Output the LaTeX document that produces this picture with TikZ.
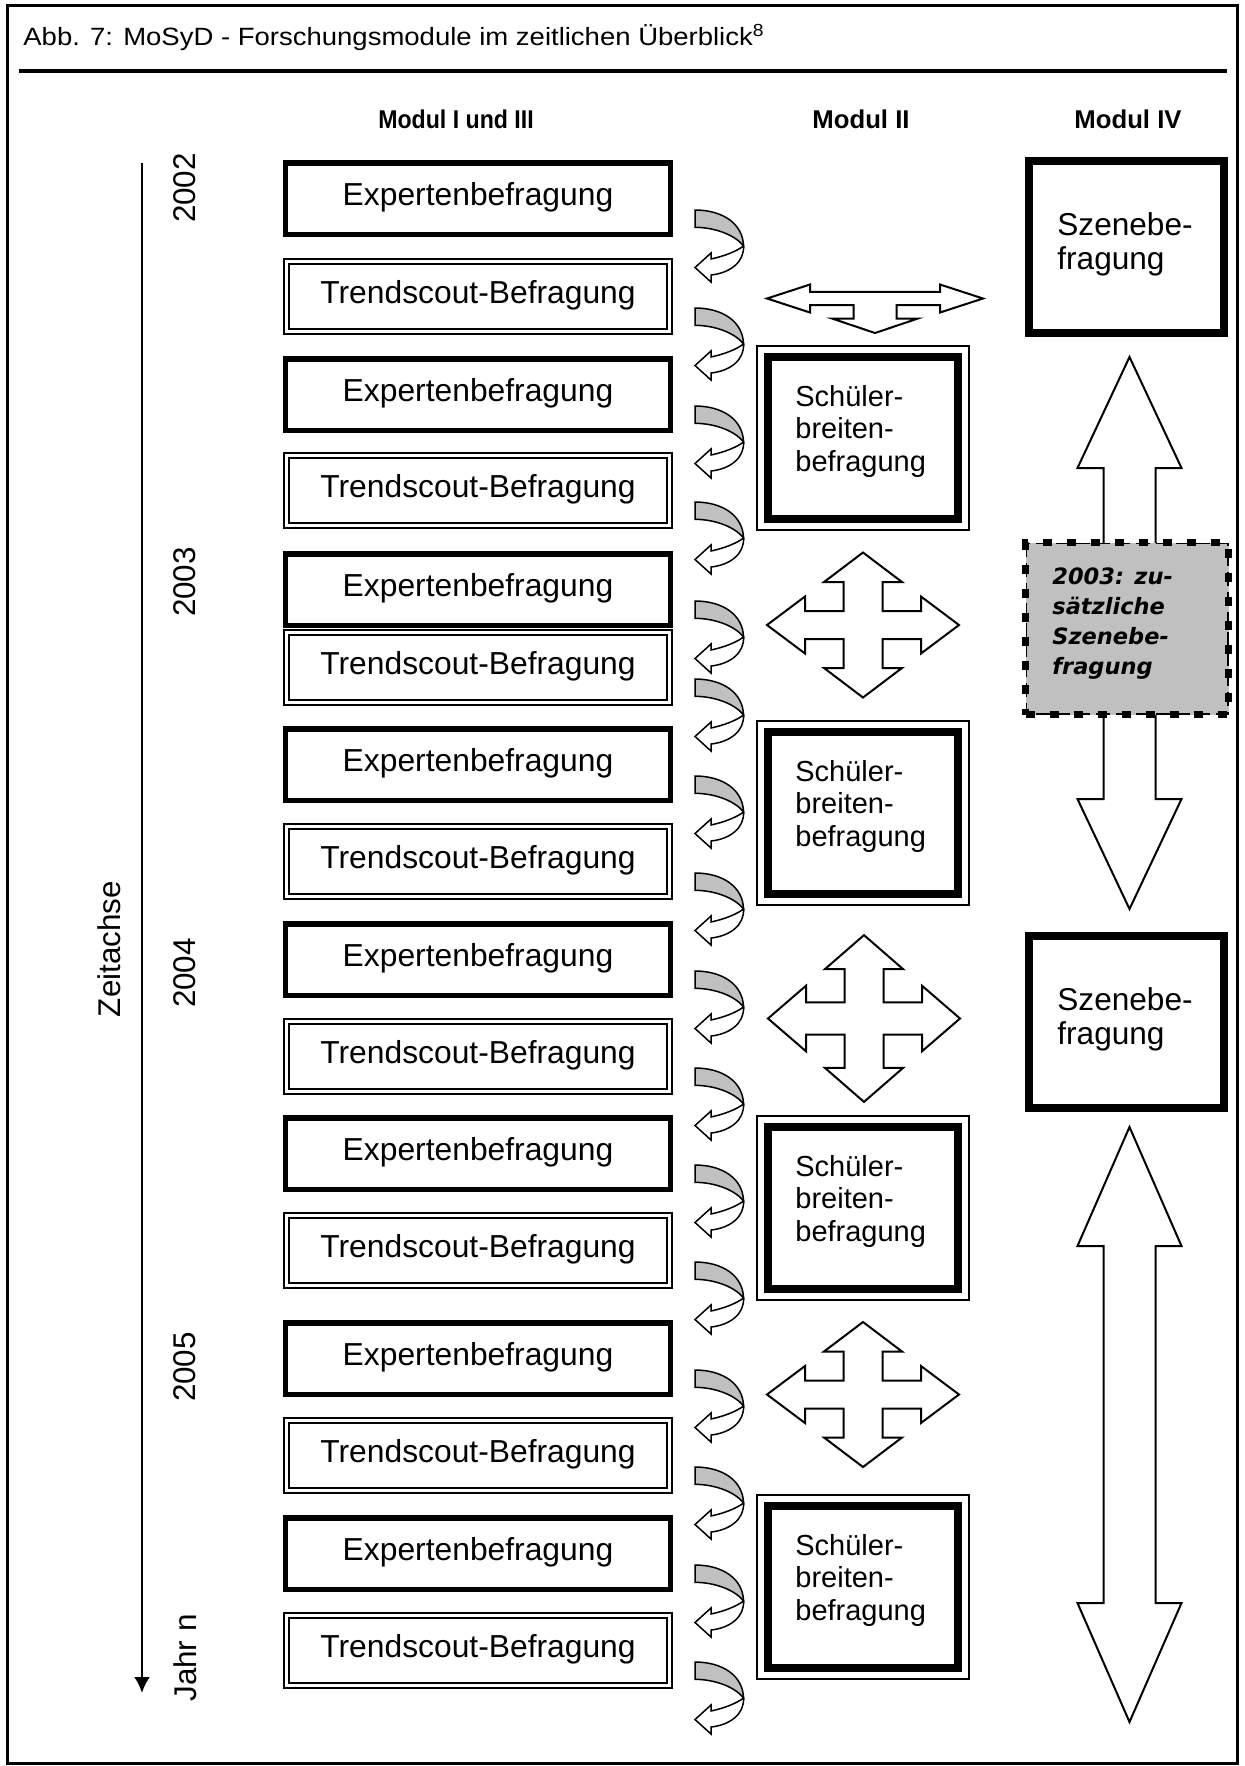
\documentclass[tikz,border=0pt]{standalone}
\usepackage{fontspec}
\setmainfont{Liberation Sans}
\newfontfamily\verdfam{DejaVu Sans}
\usepackage{graphicx}
\usetikzlibrary{arrows.meta}
\definecolor{ribbon}{RGB}{192,192,192}
\newcommand\boxfnt{\fontsize{15.9bp}{15.5bp}\selectfont}
\newcommand\schfnt{\fontsize{14.5bp}{16.25bp}\selectfont}
\newcommand\szfnt{\fontsize{15.8bp}{16.75bp}\selectfont}
\newcommand\hdrfnt{\fontsize{12.85bp}{15bp}\selectfont\bfseries}
\newcommand\yrfnt{\fontsize{15.7bp}{18bp}\selectfont}
\newcommand\itfnt{\verdfam\bfseries\itshape\fontsize{11.25bp}{15bp}\selectfont}
\newcommand\ttlfnt{\fontsize{12.5bp}{15bp}\selectfont}
\tikzset{
  curvarr/.pic={
    \filldraw[fill=ribbon,line width=0.75bp] (0,0) .. controls (28,0) and (48,14) .. (48.5,36)
      .. controls (41,26) and (22,17.5) .. (0,17.3) -- cycle;
    \filldraw[fill=white,line width=0.75bp] (48.5,36) .. controls (49.5,52) and (35,63) .. (16,65)
      -- (16,72) -- (0,57.5) -- (16,43) -- (16,49) .. controls (30,46) and (42,41) .. (48.5,36) -- cycle;
  },
  quadarr/.pic={
    \filldraw[fill=white,line width=1bp] (0,-72.5) -- (39,-43) -- (19.5,-43) -- (19.5,-14) -- (58,-14)
      -- (58,-28.5) -- (96,0) -- (58,28.5) -- (58,14) -- (19.5,14) -- (19.5,43) -- (39,43) -- (0,72.5)
      -- (-39,43) -- (-19.5,43) -- (-19.5,14) -- (-58,14) -- (-58,28.5) -- (-96,0) -- (-58,-28.5)
      -- (-58,-14) -- (-19.5,-14) -- (-19.5,-43) -- (-39,-43) -- cycle;
  },
  lrdarr/.pic={
    \filldraw[fill=white,line width=1bp] (-108,0) -- (-65,-14) -- (-65,-6.7) -- (65,-6.7) -- (65,-14)
      -- (108,0) -- (65,14) -- (65,6.7) -- (21.5,6.7) -- (21.5,20) -- (43,20) -- (0,34.5) -- (-43,20)
      -- (-21.5,20) -- (-21.5,6.7) -- (-65,6.7) -- (-65,14) -- cycle;
  }
}
\begin{document}
\begin{tikzpicture}[x=0.5bp,y=-0.5bp,line join=miter,
  expbox/.style={draw,line width=2.75bp,minimum width=192.25bp,minimum height=35.75bp,inner sep=0pt,
    font=\boxfnt,text height=11bp,text depth=4bp},
  trendbox/.style={draw,double,line width=0.9bp,double distance=1.5bp,minimum width=191.7bp,
    minimum height=35.2bp,inner sep=0pt,font=\boxfnt,text height=11bp,text depth=4bp},
  schbox/.style={draw,line width=3bp,minimum width=96bp,minimum height=82bp,inner sep=0pt},
  szbox/.style={draw,line width=4bp,minimum width=97.5bp,minimum height=86bp,inner sep=0pt},
  dbox/.style={draw,fill=ribbon,line width=3.75bp,dash pattern=on 4.5bp off 7.5bp,
    minimum width=101.5bp,minimum height=86bp,inner sep=0pt},
  schtxt/.style={anchor=base west,align=left,inner sep=0pt,font=\schfnt},
  sztxt/.style={anchor=base west,align=left,inner sep=0pt,font=\szfnt},
  ittxt/.style={anchor=base west,align=left,inner sep=0pt,font=\itfnt},
  hdr/.style={anchor=base,inner sep=0pt,font=\hdrfnt},
  yr/.style={rotate=90,inner sep=0pt,font=\yrfnt},
  thinframe/.style={line width=1bp}
]
\useasboundingbox (0,0) rectangle (1245,1766);
\fill[white] (0,0) rectangle (1245,1766);

% frame and title
\draw[line width=1.5bp] (7.5,5.3) rectangle (1237,1763);
\draw[line width=2bp] (19,71) -- (1227,71);
\node[anchor=base west,inner sep=0pt,font=\ttlfnt] (title) at (23,45)
  {\scalebox{1.1}[1]{Abb. 7: MoSyD - Forschungsmodule im zeitlichen Überblick\textsuperscript{8}}};

% headers
\node[hdr] (hI) at (456,128) {\scalebox{0.9}[1]{Modul I und III}};
\node[hdr] (hII) at (861,128) {Modul II};
\node[hdr] (hIV) at (1128,128) {Modul IV};

% time axis
\coordinate (axtop) at (142,163);
\coordinate (axend) at (142,1693);
\draw[line width=1.3bp,-{Latex[length=8bp,width=8bp]}] (axtop) -- (axend);
\node[yr] (y2002) at (185,188) {2002};
\node[yr] (y2003) at (185,582) {2003};
\node[yr] (y2004) at (185,973) {2004};
\node[yr] (y2005) at (185,1367) {2005};
\node[yr] (yn) at (185.5,1658) {Jahr n};
\node[yr] (zeit) at (109,949) {Zeitachse};

% left column
\node[expbox] (e1) at (478,198.5) {Expertenbefragung};
\node[trendbox] (t1) at (478,296.5) {Trendscout-Befragung};
\node[expbox] (e2) at (478,394.5) {Expertenbefragung};
\node[trendbox] (t2) at (478,490.5) {Trendscout-Befragung};
\node[expbox] (e3) at (478,589.5) {Expertenbefragung};
\node[trendbox] (t3) at (478,667.5) {Trendscout-Befragung};
\node[expbox] (e4) at (478,764.5) {Expertenbefragung};
\node[trendbox] (t4) at (478,861.5) {Trendscout-Befragung};
\node[expbox] (e5) at (478,959.5) {Expertenbefragung};
\node[trendbox] (t5) at (478,1056.5) {Trendscout-Befragung};
\node[expbox] (e6) at (478,1153.5) {Expertenbefragung};
\node[trendbox] (t6) at (478,1250.5) {Trendscout-Befragung};
\node[expbox] (e7) at (478,1358.5) {Expertenbefragung};
\node[trendbox] (t7) at (478,1455.5) {Trendscout-Befragung};
\node[expbox] (e8) at (478,1553.5) {Expertenbefragung};
\node[trendbox] (t8) at (478,1650.5) {Trendscout-Befragung};

% curved arrows
\foreach \yy in {210,308,406,502,601,679,776,873,971,1068,1165,1262,1370,1467,1565,1662}
  \pic at (695,\yy) {curvarr};

% middle column
\pic at (875,298.5) {lrdarr};
\foreach \nm/\cy in {s1/438,s2/813,s3/1208,s4/1587}{
  \node[schbox] (\nm) at (863,\cy) {};
  \draw[thinframe] ([shift={(-6.8,-6.8)}]\nm.north west) rectangle ([shift={(6.8,6.8)}]\nm.south east);
  \draw[thinframe] ([shift={(7,7)}]\nm.north west) rectangle ([shift={(-7,-7)}]\nm.south east);
  \node[schtxt] (\nm t) at (795,\cy+33) {Schüler-\\breiten-\\befragung};
}
\pic at (863,625) {quadarr};
\pic[yscale=1.15] at (864,1018.5) {quadarr};
\pic at (863,1394.5) {quadarr};

% right column
\filldraw[fill=white,line width=1bp] (1129.5,357) -- (1181.5,468) -- (1155.5,468) -- (1155.5,799)
  -- (1181.5,799) -- (1129.5,909) -- (1077.5,799) -- (1103.5,799) -- (1103.5,468) -- (1077.5,468) -- cycle;
\filldraw[fill=white,line width=1bp] (1129.5,1127) -- (1181.5,1246) -- (1155.5,1246) -- (1155.5,1603)
  -- (1181.5,1603) -- (1129.5,1722) -- (1077.5,1603) -- (1103.5,1603) -- (1103.5,1246) -- (1077.5,1246) -- cycle;

\foreach \nm/\cy in {z1/247,z2/1022}{
  \node[szbox] (\nm) at (1126.5,\cy) {};
  \draw[thinframe] ([shift={(7,7)}]\nm.north west) rectangle ([shift={(-7,-7)}]\nm.south east);
  \node[sztxt] (\nm t) at (1057,\cy+22) {Szenebe-\\fragung};
}

\node[dbox] (d1) at (1127,628.5) {};
\draw[line width=0.75bp,dash pattern=on 7bp off 3bp] ([shift={(4.5,4.5)}]d1.north west) rectangle ([shift={(-4.5,-4.5)}]d1.south east);
\node[ittxt] (d1t) at (1052,674) {2003: zu-\\sätzliche\\Szenebe-\\fragung};
\end{tikzpicture}
\end{document}
